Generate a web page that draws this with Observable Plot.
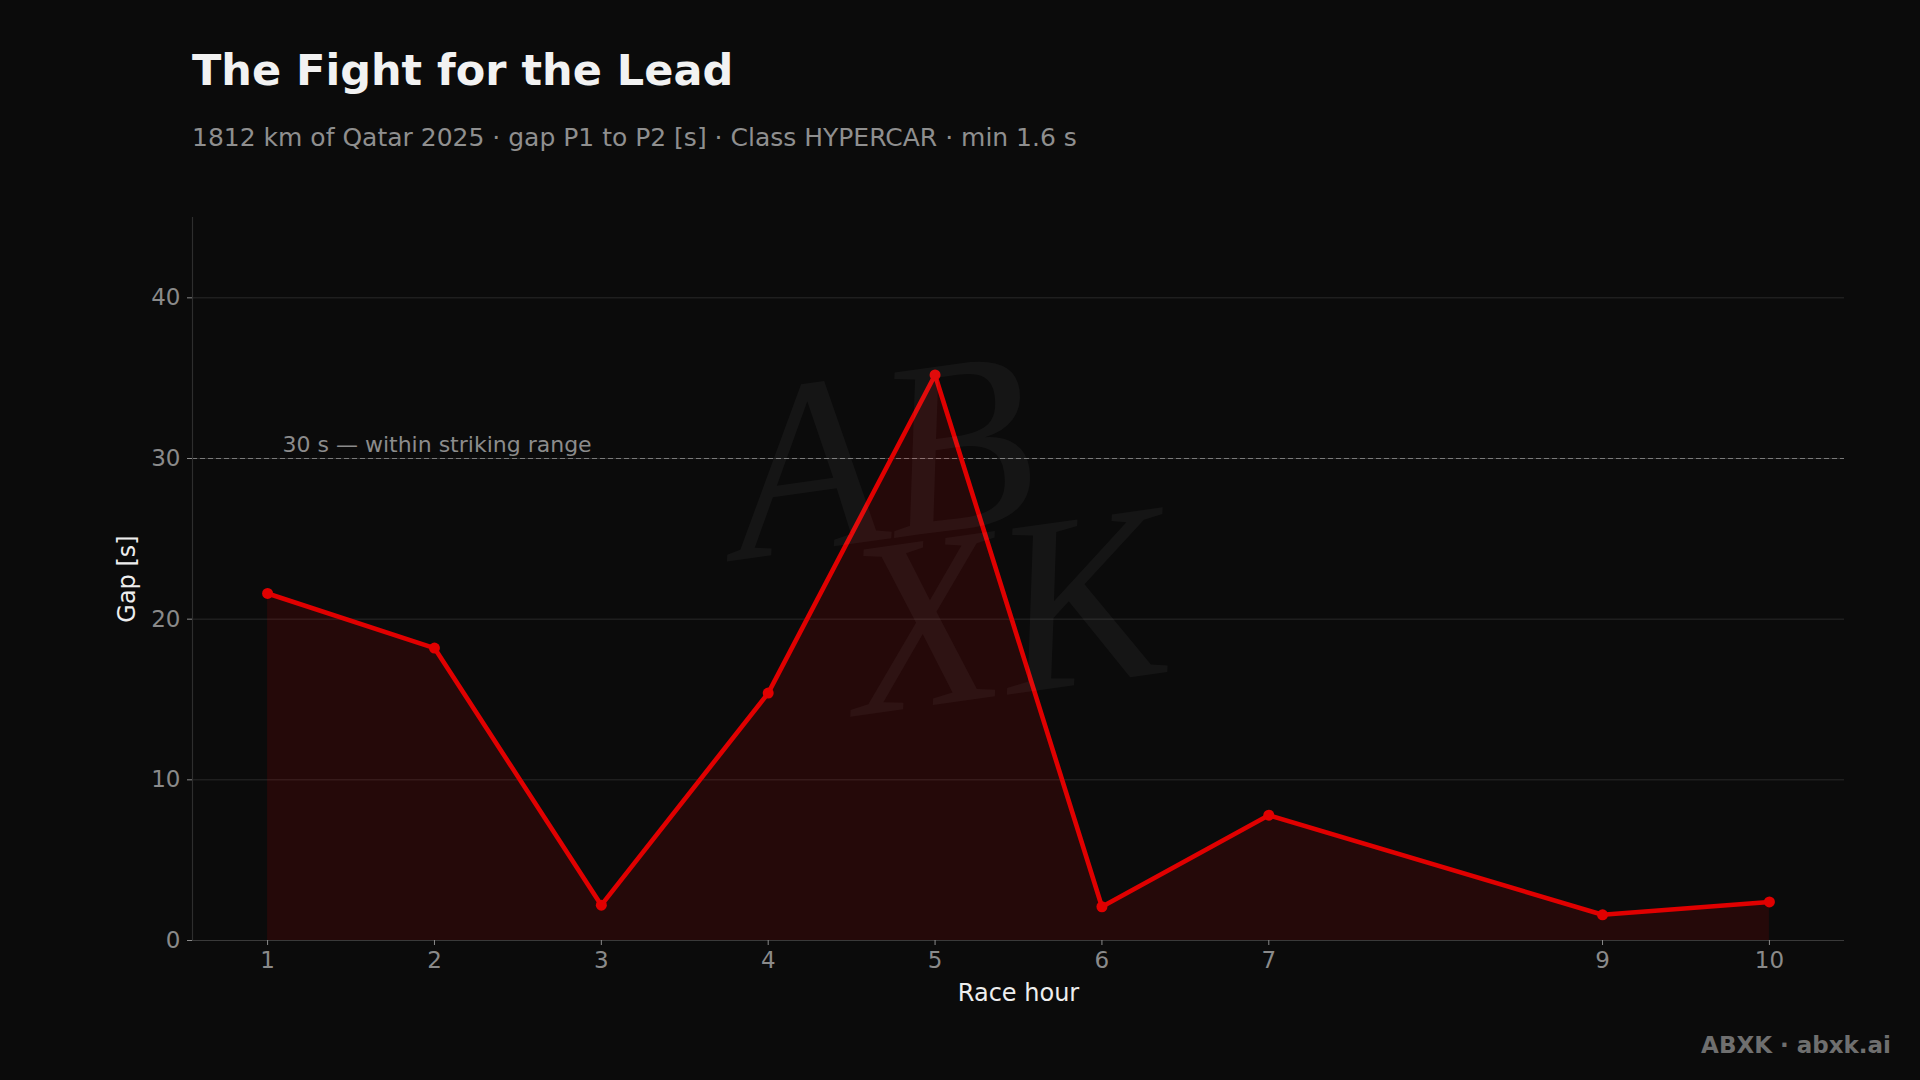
<!DOCTYPE html>
<html>
<head>
<meta charset="utf-8">
<script src="https://cdn.jsdelivr.net/npm/d3@7"></script>
<script src="https://cdn.jsdelivr.net/npm/@observablehq/plot@0.6"></script>
<style>
  html, body { margin: 0; padding: 0; background: #0b0b0b; width: 1920px; height: 1080px; overflow: hidden; font-family: "DejaVu Sans", sans-serif; }
  #title { position: absolute; left: 192px; top: 49px; font-size: 43px; line-height: 43px; font-weight: bold; color: #f2f2f2; white-space: nowrap; }
  #subtitle { position: absolute; left: 192px; top: 125px; font-size: 25px; line-height: 25px; color: #8f8f8f; white-space: nowrap; }
  #chart { position: absolute; left: 0; top: 160px; }
  #footer { position: absolute; right: 29px; top: 1034px; font-size: 23px; line-height: 23px; font-weight: bold; color: #6f6f6f; white-space: nowrap; }
  .wm { position: absolute; font-family: "Liberation Serif", serif; font-style: italic; color: rgba(255,255,255,0.045); font-size: 250px; line-height: 250px; white-space: nowrap; pointer-events: none; transform: translate(-50%, -50%) rotate(-8deg); }
</style>
</head>
<body>
<div id="title">The Fight for the Lead</div>
<div id="subtitle">1812 km of Qatar 2025 · gap P1 to P2 [s] · Class HYPERCAR · min 1.6 s</div>
<div id="chart"></div>
<div class="wm" style="left:880px; top:455px;">AB</div>
<div class="wm" style="left:1005px; top:610px;">XK</div>
<div id="footer">ABXK · abxk.ai</div>
<script>
// ---- data ----
const hours = [1, 2, 3, 4, 5, 6, 7, 9, 10];
const gaps = [21.6, 18.2, 2.2, 15.4, 35.2, 2.1, 7.8, 1.6, 2.4];
const yTicks = [0, 10, 20, 30, 40];
const xDomain = [0.55, 10.45];
const yDomain = [0, 45];
const threshold = [{ y: 30, label: "30 s — within striking range" }];
const xLabel = ["Race hour"];
const yLabel = ["Gap [s]"];

const data = hours.map((h, i) => ({ hour: h, gap: gaps[i] }));

const red = "#e00000";

const chart = Plot.plot({
  width: 1920,
  height: 860,
  marginTop: 57,
  marginBottom: 80,
  marginLeft: 192,
  marginRight: 76,
  style: { background: "transparent", fontFamily: "DejaVu Sans, sans-serif", fontSize: "23px", color: "#8a8a8a" },
  x: { domain: xDomain },
  y: { domain: yDomain },
  marks: [
    Plot.gridY(yTicks, { stroke: "#2a2a2a", strokeOpacity: 1, strokeWidth: 1 }),
    Plot.ruleY(threshold, { y: "y", stroke: "#7a7a7a", strokeWidth: 1.2, strokeDasharray: "5,3" }),
    Plot.text(threshold, { y: "y", text: "label", frameAnchor: "left", dx: 90, dy: -14, textAnchor: "start", lineAnchor: "middle", fill: "#8c8c8c", fontSize: 22 }),
    Plot.areaY(data, { x: "hour", y: "gap", fill: "#dc0000", fillOpacity: 0.13 }),
    Plot.lineY(data, { x: "hour", y: "gap", stroke: red, strokeWidth: 4.6, strokeLinejoin: "round" }),
    Plot.dot(data, { x: "hour", y: "gap", r: 5.5, fill: red, stroke: "none" }),
    Plot.ruleY([yDomain[0]], { stroke: "#3a3a3a", strokeWidth: 1.2 }),
    Plot.ruleX([xDomain[0]], { stroke: "#2e2e2e", strokeWidth: 1.2 }),
    Plot.axisX({ ticks: hours, tickFormat: d => String(d), tickSize: 5, tickPadding: 6, stroke: "#8a8a8a", fill: "#8a8a8a", label: null, fontSize: 23 }),
    Plot.axisY({ ticks: yTicks, tickSize: 5, tickPadding: 7, stroke: "#8a8a8a", fill: "#8a8a8a", label: null, fontSize: 23 }),
    Plot.text(xLabel, { text: d => d, frameAnchor: "bottom", dy: 53, lineAnchor: "middle", textAnchor: "middle", fill: "#eeeeee", fontSize: 24 }),
    Plot.text(yLabel, { text: d => d, frameAnchor: "left", dx: -65, rotate: -90, textAnchor: "middle", lineAnchor: "middle", fill: "#eeeeee", fontSize: 24 })
  ]
});
document.getElementById("chart").appendChild(chart);
</script>
</body>
</html>
